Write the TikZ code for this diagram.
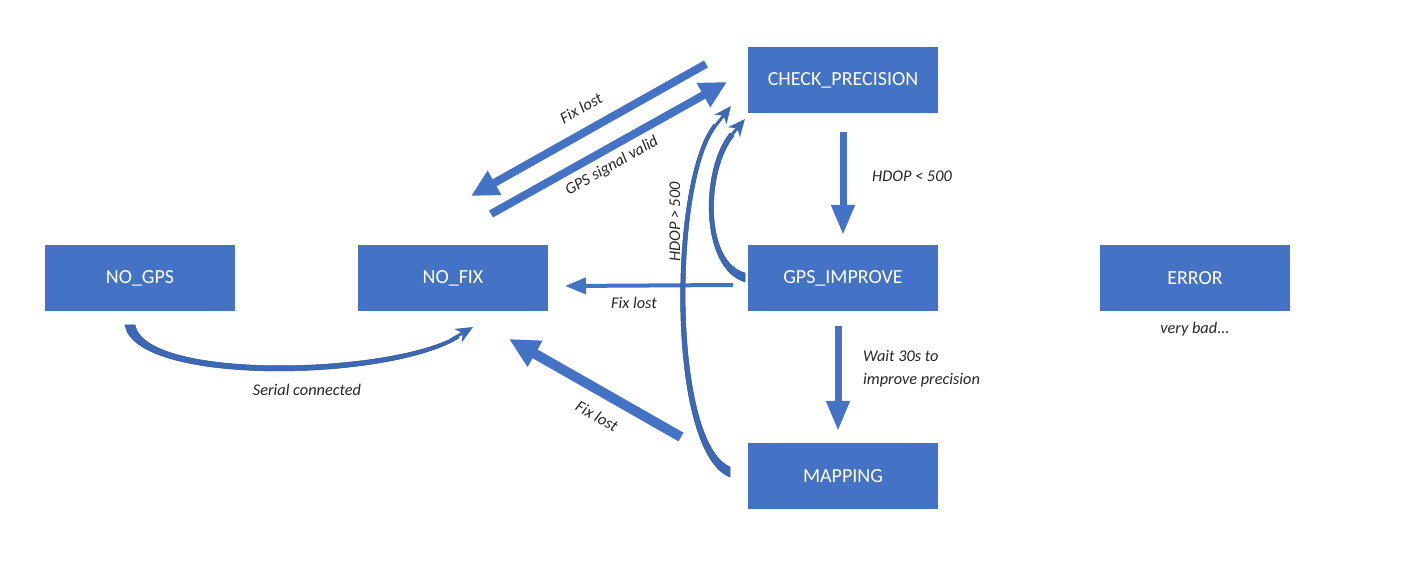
\documentclass[tikz,border=0pt]{standalone}
\usepackage{fontspec}
\setmainfont{Carlito}
\usetikzlibrary{arrows.meta}
\definecolor{boxblue}{HTML}{4472C4}
\definecolor{arrblue}{HTML}{4472C4}
\definecolor{crescblue}{HTML}{3C68B6}
\definecolor{edgeblue}{HTML}{2F5597}
\definecolor{txt}{HTML}{262626}
\begin{document}
\begin{tikzpicture}[x=1pt,y=-1pt,
  state/.style={fill=boxblue, text=white, minimum width=190pt, minimum height=66pt,
    inner sep=0pt, font=\fontsize{20}{24}\selectfont},
  lbl/.style={font=\fontsize{16.3}{23}\selectfont\itshape, inner sep=0pt, text=txt},
  blockarrow/.style={draw=arrblue, line width=#1},
  cresc/.style={fill=crescblue, draw=edgeblue, line width=0.5pt},
  chead/.style={draw=crescblue, line width=3pt, -{Stealth[length=17pt,width=15pt,inset=5pt,fill=crescblue]}},
]
\useasboundingbox (0,0) rectangle (1401,561);
\fill[white] (0,0) rectangle (1401,561);

% states
\node[state] (nogps)   at (140,278)  {NO\_GPS};
\node[state] (nofix)   at (453,278)  {NO\_FIX};
\node[state] (check)   at (843,80)   {CHECK\_PRECISION};
\node[state] (improve) at (843,278)  {GPS\_IMPROVE};
\node[state] (mapping) at (843,476)  {MAPPING};
\node[state] (error)   at (1195,278) {ERROR};

% connector end points
\coordinate (a1s) at (706,64);  \coordinate (a1e) at (471,196);
\coordinate (a2s) at (491,214); \coordinate (a2e) at (727,82);
\coordinate (a3s) at (843,132); \coordinate (a3e) at (843,235);
\coordinate (a4s) at (838,326); \coordinate (a4e) at (838,431);
\coordinate (a5s) at (733,285); \coordinate (a5e) at (565,286);
\coordinate (a6s) at (681,437); \coordinate (a6e) at (509,339);

% straight block arrows
\draw[blockarrow=8pt, -{Triangle[length=27pt,width=26pt]}] (a1s) -- (a1e);
\draw[blockarrow=8pt, -{Triangle[length=27pt,width=26pt]}] (a2s) -- (a2e);
\draw[blockarrow=7pt, -{Triangle[length=30pt,width=22pt]}] (a3s) -- (a3e);
\draw[blockarrow=7pt, -{Triangle[length=30pt,width=22pt]}] (a4s) -- (a4e);
\draw[blockarrow=4pt, -{Triangle[length=21pt,width=16pt]}] (a5s) -- (a5e);
\draw[blockarrow=10pt, -{Triangle[length=30pt,width=28pt]}] (a6s) -- (a6e);

% curved arrow: NO_GPS -> NO_FIX (Serial connected)
\coordinate (s0) at (450.5,340); \coordinate (s1) at (473,327);
\fill[cresc] (125,325) .. controls (135,386) and (388,382) .. (459,338)
   -- (457.5,335.5) .. controls (388,375) and (145,380) .. (135,325) -- cycle;
\draw[chead] (s0) -- (s1);

% curved arrow: MAPPING -> CHECK_PRECISION
\coordinate (m0) at (716.2,124.9); \coordinate (m1) at (731,106);
\fill[cresc] (730,477) .. controls (666,452) and (668,180) .. (714,124)
   -- (717,126) .. controls (673,180) and (672,442) .. (730,467) -- cycle;
\draw[chead] (m0) -- (m1);

% curved arrow: GPS_IMPROVE -> CHECK_PRECISION
\coordinate (g0) at (729.6,137.4); \coordinate (g1) at (745,119);
\fill[cresc] (745,282) .. controls (700,268) and (700,170) .. (730,133)
   -- (734,136) .. controls (706,170) and (704,262) .. (745,273) -- cycle;
\draw[chead] (g0) -- (g1);

% labels
\node[lbl, rotate=29.5] (l1) at (581,108) {Fix lost};
\node[lbl, rotate=29.5] (l2) at (612,166) {GPS signal valid};
\node[lbl, rotate=90]   (l3) at (675,222) {HDOP > 500};
\node[lbl]              (l4) at (912,176) {HDOP < 500};
\node[lbl]              (l5) at (634,303) {Fix lost};
\node[lbl, rotate=-29.7] (l6) at (597,416) {Fix lost};
\node[lbl, anchor=west, align=left] (l7) at (863,369) {Wait 30s to\\improve precision};
\node[lbl]              (l8) at (307,390) {Serial connected};
\node[lbl]              (l9) at (1195,329) {very bad...};
\end{tikzpicture}
\end{document}
